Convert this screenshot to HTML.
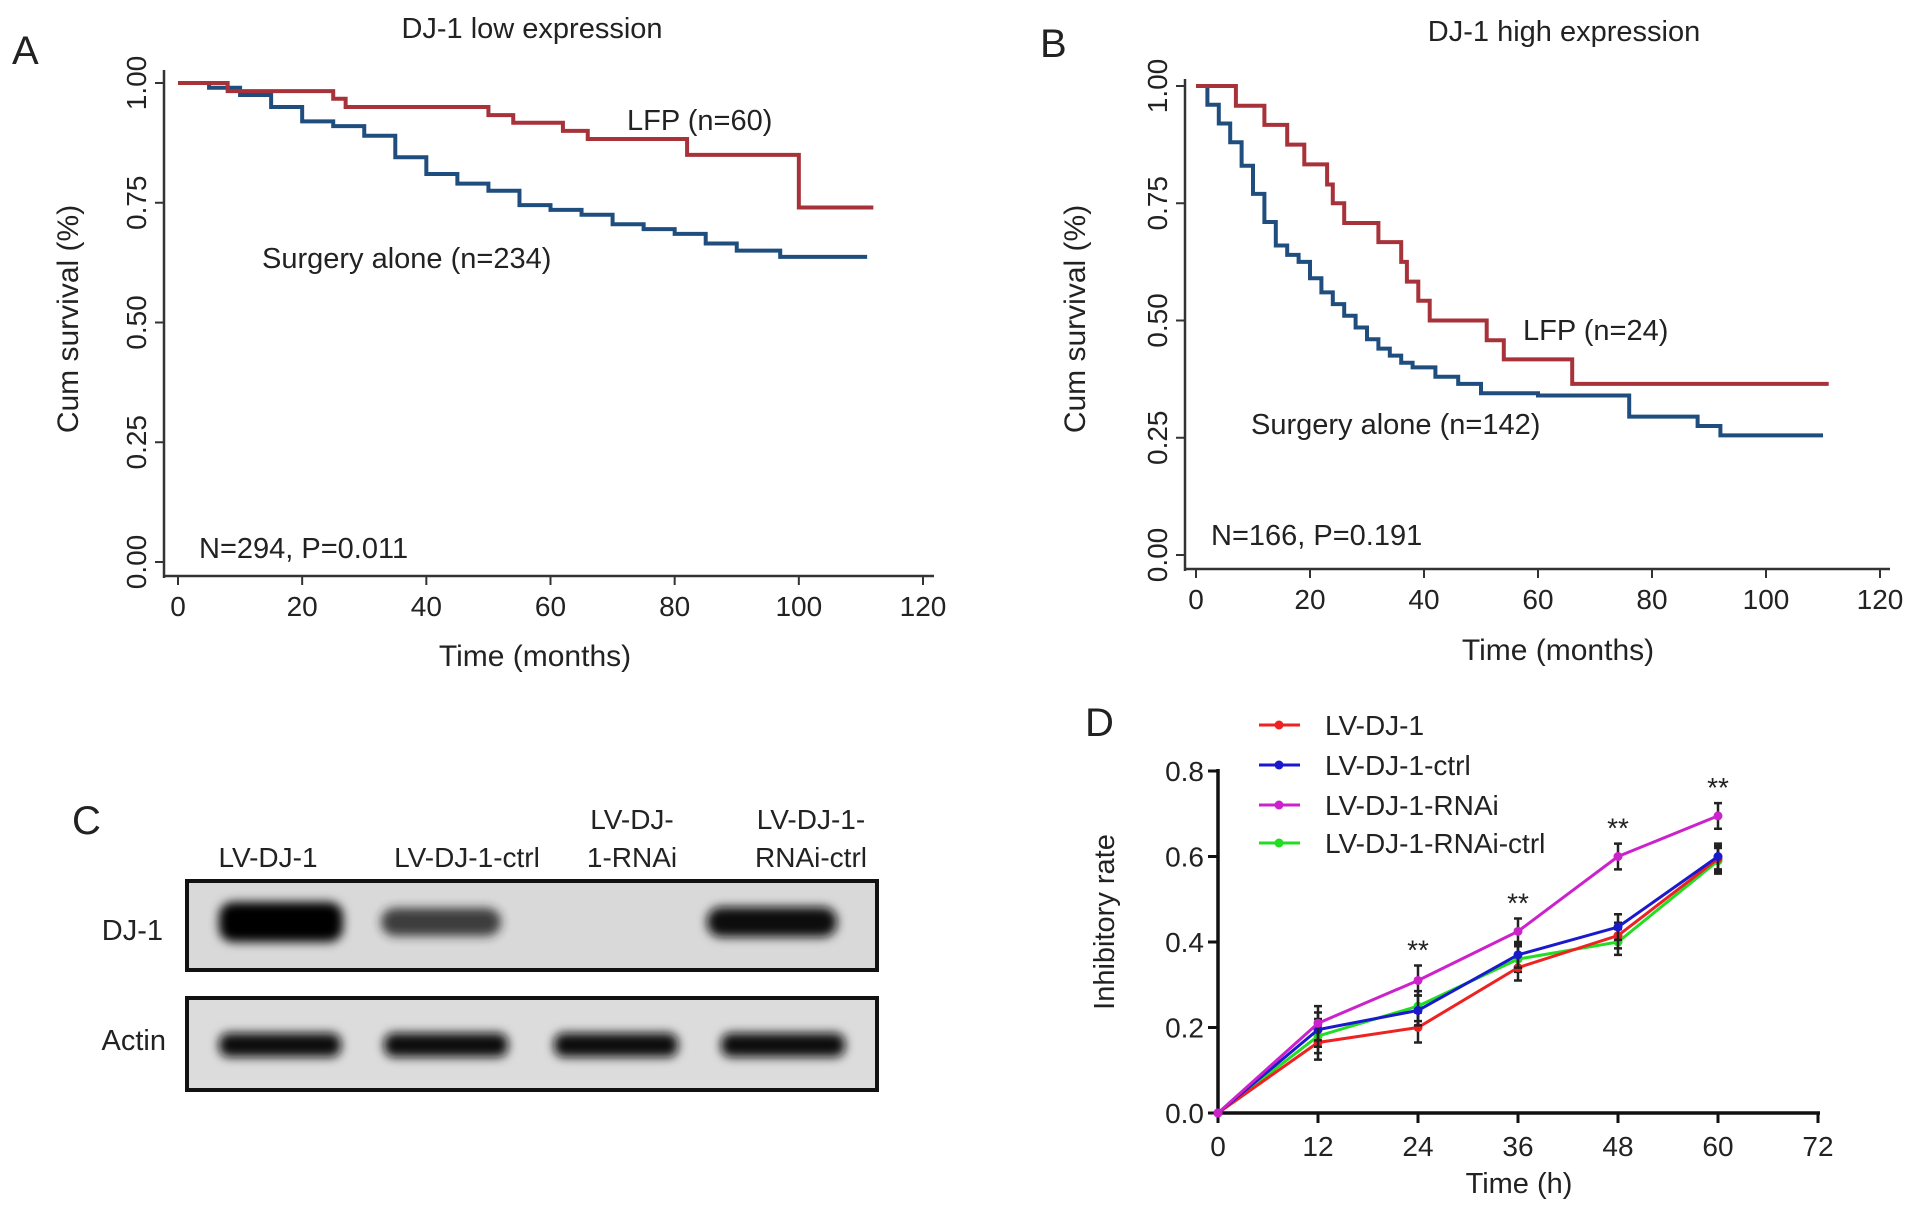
<!DOCTYPE html>
<html><head><meta charset="utf-8"><style>
html,body{margin:0;padding:0;background:#fff;}
svg{display:block;font-family:"Liberation Sans",Arial,sans-serif;}
text{fill:#222;}
</style></head>
<body>
<svg id="fig" width="1913" height="1214" viewBox="0 0 1913 1214">
  <g id="pA"></g>
  <g id="pB"></g>
  <g id="pC"></g>
  <g id="pD"></g>
</svg>
<script>
// ---- Panel A data ----
const aLfpT = [0, 8, 25, 27, 50, 54, 62, 66, 82, 100, 112];
const aLfpS = [1.0, 0.983, 0.967, 0.95, 0.933, 0.917, 0.9, 0.883, 0.85, 0.74, 0.74];
const aSurT = [0, 5, 10, 15, 20, 25, 30, 35, 40, 45, 50, 55, 60, 65, 70, 75, 80, 85, 90, 97, 111];
const aSurS = [1.0, 0.99, 0.975, 0.95, 0.92, 0.91, 0.89, 0.845, 0.81, 0.79, 0.775, 0.745, 0.735, 0.725, 0.705, 0.695, 0.685, 0.665, 0.65, 0.637, 0.637];
// ---- Panel B data ----
const bLfpT = [0, 7, 12, 16, 19, 23, 24, 26, 32, 36, 37, 39, 41, 51, 54, 66, 111];
const bLfpS = [1.0, 0.958, 0.917, 0.875, 0.833, 0.79, 0.75, 0.708, 0.667, 0.625, 0.583, 0.542, 0.5, 0.458, 0.417, 0.365, 0.365];
const bSurT = [0, 2, 4, 6, 8, 10, 12, 14, 16, 18, 20, 22, 24, 26, 28, 30, 32, 34, 36, 38, 42, 46, 50, 60, 76, 88, 92, 110];
const bSurS = [1.0, 0.96, 0.92, 0.88, 0.83, 0.77, 0.71, 0.66, 0.64, 0.625, 0.59, 0.56, 0.535, 0.51, 0.485, 0.46, 0.44, 0.425, 0.41, 0.4, 0.38, 0.365, 0.345, 0.34, 0.295, 0.275, 0.255, 0.255];
const kmXTicks = [0, 20, 40, 60, 80, 100, 120];
const kmYTicks = ["0.00", "0.25", "0.50", "0.75", "1.00"];
// ---- Panel D data ----
const dTimes = [0, 12, 24, 36, 48, 60];
const dXTicks = [0, 12, 24, 36, 48, 60, 72];
const dYTicks = ["0.0", "0.2", "0.4", "0.6", "0.8"];
const dNames = ["LV-DJ-1", "LV-DJ-1-ctrl", "LV-DJ-1-RNAi", "LV-DJ-1-RNAi-ctrl"];
const dRed = [0, 0.165, 0.2, 0.34, 0.415, 0.595];
const dBlue = [0, 0.195, 0.24, 0.37, 0.435, 0.6];
const dMag = [0, 0.21, 0.31, 0.425, 0.6, 0.695];
const dGreen = [0, 0.18, 0.25, 0.36, 0.40, 0.59];
const dErr = [0, 0.04, 0.035, 0.03, 0.03, 0.03];
const dStars = [24, 36, 48, 60];

const NS = "http://www.w3.org/2000/svg";
function el(parent, tag, attrs, txt) {
  const e = document.createElementNS(NS, tag);
  for (const k in attrs) e.setAttribute(k, attrs[k]);
  if (txt !== undefined) e.textContent = txt;
  parent.appendChild(e);
  return e;
}

function kmPanel(g, cfg) {
  const sx = t => cfg.x0 + (cfg.x120 - cfg.x0) * t / 120;
  const sy = v => cfg.y0 + (cfg.y1 - cfg.y0) * v;
  let t = el(g, "text", {x: cfg.letterX, y: cfg.letterY, "font-size": 40}, cfg.letter);
  
  
  t = el(g, "text", {x: cfg.titleX, y: cfg.titleY, "font-size": 29, "text-anchor": "middle"}, cfg.title);
  
  
  let ax = el(g, "line", {x1: cfg.axX, y1: cfg.axTop, x2: cfg.axX, y2: cfg.axY + 2, stroke: "#333", "stroke-width": 2.5});
  
  
  ax = el(g, "line", {x1: cfg.axX, y1: cfg.axY, x2: cfg.axRight, y2: cfg.axY, stroke: "#333", "stroke-width": 2.5});
  
  
  kmYTicks.forEach((lab, i) => {
    const y = sy(i * 0.25);
    const tk = el(g, "line", {x1: cfg.axX - 9, y1: y, x2: cfg.axX, y2: y, stroke: "#333", "stroke-width": 2});
    
    
    const tx = el(g, "text", {x: 0, y: 0, "font-size": 28, "text-anchor": "middle", transform: `translate(${cfg.axX - 18},${y}) rotate(-90)`}, lab);
    
    
  });
  kmXTicks.forEach(v => {
    const x = sx(v);
    const tk = el(g, "line", {x1: x, y1: cfg.axY, x2: x, y2: cfg.axY + 9, stroke: "#333", "stroke-width": 2});
    
    
    const tx = el(g, "text", {x: x, y: cfg.axY + 40, "font-size": 28, "text-anchor": "middle"}, v);
    
    
  });
  t = el(g, "text", {x: cfg.xtX, y: cfg.xtY, "font-size": 30, "text-anchor": "middle"}, "Time (months)");
  
  
  t = el(g, "text", {x: 0, y: 0, "font-size": 30, "text-anchor": "middle", transform: `translate(${cfg.ytX},${cfg.ytY}) rotate(-90)`}, "Cum survival (%)");
  
  
  function step(T, S, color, name) {
    let d = `M${sx(T[0])},${sy(S[0])}`;
    for (let i = 1; i < T.length; i++) d += ` H${sx(T[i])} V${sy(S[i])}`;
    const p = el(g, "path", {d: d, fill: "none", stroke: color, "stroke-width": 4});
    
    
  }
  step(cfg.surT, cfg.surS, "#1f4e7e", "surgery-alone-curve");
  step(cfg.lfpT, cfg.lfpS, "#a8323a", "lfp-curve");
  t = el(g, "text", {x: cfg.lfpLX, y: cfg.lfpLY, "font-size": 29}, cfg.lfpLab);
  
  
  t = el(g, "text", {x: cfg.surLX, y: cfg.surLY, "font-size": 29}, cfg.surLab);
  
  
  t = el(g, "text", {x: cfg.nX, y: cfg.nY, "font-size": 29}, cfg.nLab);
  
  
}

kmPanel(document.getElementById("pA"), {
  letter: "A", letterX: 12, letterY: 64, title: "DJ-1 low expression", titleX: 532, titleY: 38,
  x0: 178, x120: 923, y0: 562, y1: 83,
  axX: 164, axTop: 70, axY: 576, axRight: 934,
  xtX: 535, xtY: 666, ytX: 78, ytY: 319,
  lfpT: aLfpT, lfpS: aLfpS, surT: aSurT, surS: aSurS,
  lfpLab: "LFP (n=60)", lfpLX: 627, lfpLY: 130, surLab: "Surgery alone (n=234)", surLX: 262, surLY: 268,
  nLab: "N=294, P=0.011", nX: 199, nY: 558
});
kmPanel(document.getElementById("pB"), {
  letter: "B", letterX: 1040, letterY: 57, title: "DJ-1 high expression", titleX: 1564, titleY: 41,
  x0: 1196, x120: 1880, y0: 555, y1: 86,
  axX: 1185, axTop: 79, axY: 569, axRight: 1890,
  xtX: 1558, xtY: 660, ytX: 1085, ytY: 319,
  lfpT: bLfpT, lfpS: bLfpS, surT: bSurT, surS: bSurS,
  lfpLab: "LFP (n=24)", lfpLX: 1523, lfpLY: 340, surLab: "Surgery alone (n=142)", surLX: 1251, surLY: 434,
  nLab: "N=166, P=0.191", nX: 1211, nY: 545
});

// ---- Panel C ----
(function () {
  const g = document.getElementById("pC");
  const defs = el(g, "defs", {});
  const f = el(defs, "filter", {id: "blur", x: "-20%", y: "-50%", width: "140%", height: "200%"});
  el(f, "feGaussianBlur", {stdDeviation: 5});
  let t = el(g, "text", {x: 72, y: 834, "font-size": 40}, "C");
  
  
  const labs = [["LV-DJ-1"], ["LV-DJ-1-ctrl"], ["LV-DJ-", "1-RNAi"], ["LV-DJ-1-", "RNAi-ctrl"]];
  const cx = [268, 467, 632, 811];
  labs.forEach((ls, i) => {
    ls.forEach((s, j) => {
      const y = ls.length === 1 ? 867 : 829 + j * 38;
      const tx = el(g, "text", {x: cx[i], y: y, "font-size": 28, "text-anchor": "middle"}, s);
      
      
    });
  });
  let b = el(g, "rect", {x: 187, y: 881, width: 690, height: 89, fill: "#d9d9d9", stroke: "#111", "stroke-width": 4});
  
  
  b = el(g, "rect", {x: 187, y: 998, width: 690, height: 92, fill: "#dcdcdc", stroke: "#111", "stroke-width": 4});
  
  
  t = el(g, "text", {x: 163, y: 940, "font-size": 29, "text-anchor": "end"}, "DJ-1");
  
  
  t = el(g, "text", {x: 166, y: 1050, "font-size": 29, "text-anchor": "end"}, "Actin");
  
  
  const dj = [[219, 124, 40, "#000", 1], [381, 120, 28, "#222", 0.85], [707, 130, 30, "#111", 1]];
  dj.forEach(d => {
    const r = el(g, "rect", {x: d[0], y: 922 - d[2] / 2, width: d[1], height: d[2], rx: 14, fill: d[3], opacity: d[4], filter: "url(#blur)"});
    
    
  });
  [[219, 122], [384, 124], [554, 124], [721, 124]].forEach(d => {
    const r = el(g, "rect", {x: d[0], y: 1033, width: d[1], height: 24, rx: 10, fill: "#111", filter: "url(#blur)"});
    
    
  });
})();

// ---- Panel D ----
(function () {
  const g = document.getElementById("pD");
  const X0 = 1218, X72 = 1818, Y0 = 1113, Y08 = 771;
  const sx = v => X0 + (X72 - X0) * v / 72;
  const sy = v => Y0 + (Y08 - Y0) * v / 0.8;
  let t = el(g, "text", {x: 1085, y: 736, "font-size": 40}, "D");
  
  
  let a = el(g, "line", {x1: X0, y1: sy(0.8) - 2, x2: X0, y2: Y0, stroke: "#111", "stroke-width": 3.5});
  
  
  a = el(g, "line", {x1: X0, y1: Y0, x2: X72 + 2, y2: Y0, stroke: "#111", "stroke-width": 3.5});
  
  
  dYTicks.forEach((lab, i) => {
    const y = sy(i * 0.2);
    const tk = el(g, "line", {x1: X0 - 10, y1: y, x2: X0, y2: y, stroke: "#111", "stroke-width": 3});
    
    
    const tx = el(g, "text", {x: X0 - 14, y: y + 10, "font-size": 28, "text-anchor": "end"}, lab);
    
    
  });
  dXTicks.forEach(v => {
    const x = sx(v);
    const tk = el(g, "line", {x1: x, y1: Y0, x2: x, y2: Y0 + 10, stroke: "#111", "stroke-width": 3});
    
    
    const tx = el(g, "text", {x: x, y: Y0 + 43, "font-size": 28, "text-anchor": "middle"}, v);
    
    
  });
  t = el(g, "text", {x: 1519, y: 1193, "font-size": 29, "text-anchor": "middle"}, "Time (h)");
  
  
  t = el(g, "text", {x: 0, y: 0, "font-size": 29, "text-anchor": "middle", transform: "translate(1114,922) rotate(-90)"}, "Inhibitory rate");
  
  
  const series = [dGreen, dRed, dBlue, dMag];
  const colors = ["#22dd22", "#ee2222", "#1a1acc", "#cc22cc"];
  const names = ["series-lv-dj-1-rnai-ctrl", "series-lv-dj-1", "series-lv-dj-1-ctrl", "series-lv-dj-1-rnai"];
  series.forEach((s, k) => {
    const pts = s.map((v, i) => `${sx(dTimes[i])},${sy(v)}`).join(" ");
    const pl = el(g, "polyline", {points: pts, fill: "none", stroke: colors[k], "stroke-width": 3});
    
    
    s.forEach((v, i) => {
      const x = sx(dTimes[i]);
      const e = el(g, "path", {d: `M${x},${sy(v - dErr[i])}V${sy(v + dErr[i])}M${x - 4},${sy(v - dErr[i])}h8M${x - 4},${sy(v + dErr[i])}h8`, stroke: "#222", "stroke-width": 2.5, fill: "none"});
      
      
      const c = el(g, "circle", {cx: x, cy: sy(v), r: 4.5, fill: colors[k]});
      
      
    });
  });
  dStars.forEach(tm => {
    const i = dTimes.indexOf(tm);
    const tx = el(g, "text", {x: sx(tm), y: sy(dMag[i] + dErr[i]) - 6, "font-size": 28, "text-anchor": "middle"}, "**");
    
    
  });
  const legCol = ["#ee2222", "#1a1acc", "#cc22cc", "#22dd22"];
  const legY = [725, 765, 805, 843];
  dNames.forEach((n, i) => {
    const gl = el(g, "g", {});
    
    
    el(gl, "line", {x1: 1259, y1: legY[i], x2: 1300, y2: legY[i], stroke: legCol[i], "stroke-width": 3});
    el(gl, "circle", {cx: 1279, cy: legY[i], r: 4.5, fill: legCol[i]});
    el(gl, "text", {x: 1325, y: legY[i] + 10, "font-size": 28}, n);
  });
})();
</script>
</body></html>
